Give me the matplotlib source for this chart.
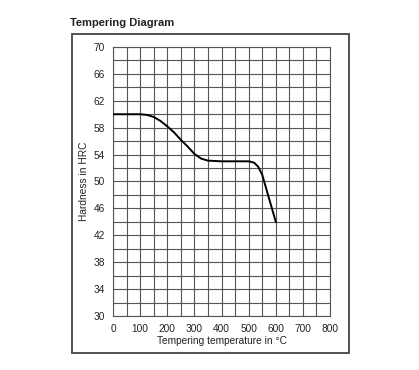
import matplotlib.pyplot as plt
from matplotlib.patches import Rectangle
from matplotlib.ticker import MultipleLocator

plt.rcParams['font.family'] = ['Liberation Sans', 'DejaVu Sans']

# curve
temps = [0, 100, 125, 150, 175, 200, 225, 250, 275, 300, 325, 350, 400, 450, 500, 520, 535, 550, 600]
hardness = [60, 60, 59.9, 59.6, 59, 58.2, 57.3, 56.2, 55.2, 54.1, 53.4, 53.1, 53, 53, 53, 52.8, 52.2, 51, 44]

x_ticks = [0, 100, 200, 300, 400, 500, 600, 700, 800]
y_ticks = [30, 34, 38, 42, 46, 50, 54, 58, 62, 66, 70]

txt = '#222222'
grid_col = '#555555'

fig = plt.figure(figsize=(4.19, 3.70), dpi=100)
fig.patch.set_facecolor('white')

# outer frame
fig.patches.append(Rectangle((0.172, 0.046), 0.661, 0.862, transform=fig.transFigure,
                             fill=False, edgecolor='#444444', linewidth=1.3))
fig.text(0.168, 0.938, 'Tempering Diagram', fontsize=8, fontweight='bold',
         color=txt, ha='left', va='center')

ax = fig.add_axes([0.2697, 0.146, 0.518, 0.727])
ax.plot(temps, hardness, color='black', linewidth=1.4, zorder=3)

ax.set_xlim(0, 800)
ax.set_ylim(30, 70)
ax.set_xticks(x_ticks)
ax.set_yticks(y_ticks)
ax.xaxis.set_minor_locator(MultipleLocator(50))
ax.yaxis.set_minor_locator(MultipleLocator(2))
ax.grid(True, which='both', color=grid_col, linewidth=0.8)
ax.set_axisbelow(True)
ax.tick_params(which='both', length=0, labelsize=7.3, colors=txt, pad=6)
for s in ax.spines.values():
    s.set_color(grid_col)
    s.set_linewidth(0.8)

ax.set_xlabel('Tempering temperature in °C', fontsize=7.3, color=txt, labelpad=1)
ax.set_ylabel('Hardness in HRC', fontsize=7.3, color=txt, labelpad=3)

fig.savefig('out.png', dpi=100)
